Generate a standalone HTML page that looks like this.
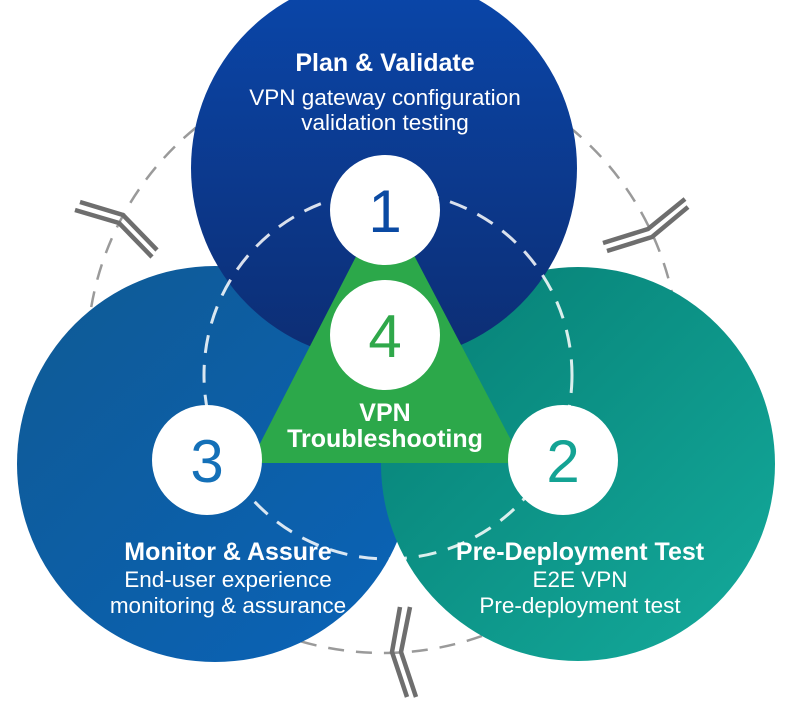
<!DOCTYPE html>
<html><head><meta charset="utf-8"><style>
html,body{margin:0;padding:0;background:#fff;width:800px;height:701px;overflow:hidden}
svg{display:block}
text{font-family:"Liberation Sans",Arial,sans-serif}
</style></head><body>
<svg width="800" height="701" viewBox="0 0 800 701" xmlns="http://www.w3.org/2000/svg">
<defs>
<linearGradient id="gt" x1="0" y1="0" x2="0" y2="1"><stop offset="0" stop-color="#0a47ab"/><stop offset="1" stop-color="#0d2d73"/></linearGradient>
<linearGradient id="gl" x1="0" y1="0" x2="1" y2="1"><stop offset="0" stop-color="#0f5a94"/><stop offset="1" stop-color="#0a63b8"/></linearGradient>
<linearGradient id="gr" x1="0" y1="0" x2="1" y2="1"><stop offset="0" stop-color="#067e74"/><stop offset="1" stop-color="#14ab9c"/></linearGradient>
</defs>
<circle cx="383" cy="357" r="296" fill="none" stroke="#9a9a9a" stroke-width="2.5" stroke-dasharray="16 12"/>
<circle cx="215" cy="464" r="198" fill="url(#gl)"/>
<circle cx="578" cy="464" r="197" fill="url(#gr)"/>
<circle cx="384" cy="168" r="193" fill="url(#gt)"/>
<polygon points="385,200 250,463 523,463" fill="#2ca84a"/>
<circle cx="388" cy="375" r="184" fill="none" stroke="#fff" stroke-opacity="0.85" stroke-width="3" stroke-dasharray="18 12"/>
<g fill="none" stroke="#6e6e6e" stroke-width="4.5">
<polyline points="80,202 123,215 157,250"/><polyline points="75,210 119,223 152,257"/>
<polyline points="603,243 648,229 685,199"/><polyline points="607,251 652,237 688,207"/>
<polyline points="400,607 392,652 407,697"/><polyline points="410,607 401,652 416,697"/>
</g>
<g fill="#fff">
<circle cx="385" cy="210" r="55"/><circle cx="385" cy="335" r="55"/>
<circle cx="207" cy="460" r="55"/><circle cx="563" cy="460" r="55"/>
</g>
<g font-size="60" text-anchor="middle">
<text x="385" y="232" fill="#0a4aa3">1</text>
<text x="385" y="357" fill="#2fa84a">4</text>
<text x="207" y="482" fill="#1470b8">3</text>
<text x="563" y="482" fill="#14a394">2</text>
</g>
<g fill="#fff" text-anchor="middle">
<text x="385" y="71" font-size="25" font-weight="bold">Plan &amp; Validate</text>
<text x="385" y="105" font-size="22.5">VPN gateway configuration</text>
<text x="385" y="130" font-size="22.5">validation testing</text>
<text x="385" y="421" font-size="25" font-weight="bold">VPN</text>
<text x="385" y="447" font-size="25" font-weight="bold">Troubleshooting</text>
<text x="228" y="560" font-size="25" font-weight="bold">Monitor &amp; Assure</text>
<text x="228" y="587" font-size="22.5">End-user experience</text>
<text x="228" y="613" font-size="22.5">monitoring &amp; assurance</text>
<text x="580" y="560" font-size="25" font-weight="bold">Pre-Deployment Test</text>
<text x="580" y="587" font-size="22.5">E2E VPN</text>
<text x="580" y="613" font-size="22.5">Pre-deployment test</text>
</g>
</svg>
</body></html>
